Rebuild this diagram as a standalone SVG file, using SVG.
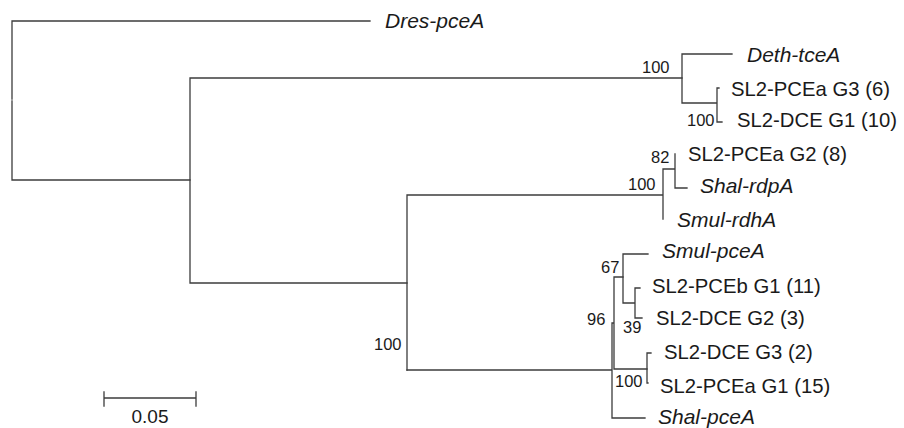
<svg xmlns="http://www.w3.org/2000/svg" width="904" height="428" viewBox="0 0 904 428">
<style>
.br{fill:none;stroke:#3c3c3c;stroke-width:1.3;stroke-linecap:square}
.tx{font-family:"Liberation Sans",Arial,sans-serif;font-size:20.3px;fill:#1a1a1a}
.it{font-family:"Liberation Sans",Arial,sans-serif;font-size:21px;font-style:italic;fill:#1a1a1a}
.bs{font-family:"Liberation Sans",Arial,sans-serif;font-size:16.5px;fill:#1a1a1a}
</style>
<rect width="904" height="428" fill="#fff"/>
<g id="connectors" class="br">
<path d="M12 21V99M12 101V180M12 21H370M12 180H190"/>
<path d="M190 78V283M190 78H682M190 283H407"/>
<path d="M682 54V103M682 54H732M682 103H717M717 88V122M717 88H719M717 122H722"/>
<path d="M407 195V370M407 195H663M663 169V219M663 169H675M675 154V188M675 188H687"/>
<path d="M407 370H612M612 323V418M612 418H645M612 323H614M614 277V369M614 277H623M614 369H647"/>
<path d="M623 254V303M623 254H648M623 303H635M635 288V318M635 288H640M635 318H642"/>
<path d="M647 353V383M647 353H651M647 383H648"/>
</g>
<g id="leaf-dres-pceA"><text class="it" x="385" y="28">Dres-pceA</text></g>
<g id="leaf-deth-tceA"><text class="it" x="747" y="62">Deth-tceA</text></g>
<g id="leaf-sl2-pcea-g3"><text class="tx" x="731" y="96">SL2-PCEa G3 (6)</text></g>
<g id="leaf-sl2-dce-g1"><text class="tx" x="737" y="127">SL2-DCE G1 (10)</text></g>
<g id="leaf-sl2-pcea-g2"><text class="tx" x="688" y="161">SL2-PCEa G2 (8)</text></g>
<g id="leaf-shal-rdpA"><text class="it" x="700" y="193">Shal-rdpA</text></g>
<g id="leaf-smul-rdhA"><text class="it" x="677" y="227">Smul-rdhA</text></g>
<g id="leaf-smul-pceA"><text class="it" x="662" y="258">Smul-pceA</text></g>
<g id="leaf-sl2-pceb-g1"><text class="tx" x="652" y="293">SL2-PCEb G1 (11)</text></g>
<g id="leaf-sl2-dce-g2"><text class="tx" x="656" y="325">SL2-DCE G2 (3)</text></g>
<g id="leaf-sl2-dce-g3"><text class="tx" x="664" y="359">SL2-DCE G3 (2)</text></g>
<g id="leaf-sl2-pcea-g1"><text class="tx" x="660" y="393">SL2-PCEa G1 (15)</text></g>
<g id="leaf-shal-pceA"><text class="it" x="658" y="424">Shal-pceA</text></g>
<g id="bootstrap">
<text class="bs" x="642" y="73">100</text>
<text class="bs" x="687" y="126">100</text>
<text class="bs" x="651" y="163">82</text>
<text class="bs" x="628" y="190">100</text>
<text class="bs" x="601" y="273">67</text>
<text class="bs" x="587" y="325">96</text>
<text class="bs" x="623" y="333">39</text>
<text class="bs" x="615" y="387">100</text>
<text class="bs" x="374" y="350">100</text>
</g>
<g id="scale-bar">
<path class="br" d="M104 398H196M104 392V406M196 392V406"/>
<text class="tx" x="150" y="423" text-anchor="middle" style="font-size:19px">0.05</text>
</g>
</svg>
